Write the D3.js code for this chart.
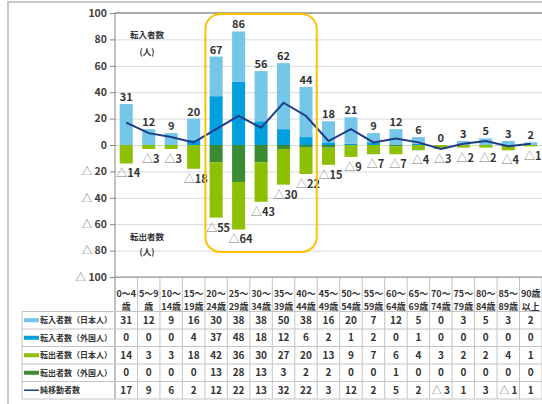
<!DOCTYPE html>
<html>
<head>
<meta charset="utf-8">
<script src="https://cdn.jsdelivr.net/npm/d3@7"></script>
<style>
  body { margin: 0; background: #fff; }
  svg { display: block; font-family: "Noto Sans CJK JP", "Noto Sans", sans-serif; }
</style>
</head>
<body>
<svg id="chart" width="542" height="404"></svg>
<script>
/* 年齢別 転入・転出者数 chart: stacked bars + net line + data table */

const AGE_TOP = ['0～4', '5～9', '10～', '15～', '20～', '25～', '30～', '35～', '40～', '45～',
  '50～', '55～', '60～', '65～', '70～', '75～', '80～', '85～', '90歳'];
const AGE_BOTTOM = ['歳', '歳', '14歳', '19歳', '24歳', '29歳', '34歳', '39歳', '44歳', '49歳',
  '54歳', '59歳', '64歳', '69歳', '74歳', '79歳', '84歳', '89歳', '以上'];

const IN_JP      = [31, 12, 9, 16, 30, 38, 38, 50, 38, 16, 20, 7, 12, 5, 0, 3, 5, 3, 2];
const IN_FOREIGN = [0, 0, 0, 4, 37, 48, 18, 12, 6, 2, 1, 2, 0, 1, 0, 0, 0, 0, 0];
const OUT_JP     = [14, 3, 3, 18, 42, 36, 30, 27, 20, 13, 9, 7, 6, 4, 3, 2, 2, 4, 1];
const OUT_FOREIGN= [0, 0, 0, 0, 13, 28, 13, 3, 2, 2, 0, 0, 1, 0, 0, 0, 0, 0, 0];
const NET        = [17, 9, 6, 2, 12, 22, 13, 32, 22, 3, 12, 2, 5, 2, -3, 1, 3, -1, 1];

const Y_TICKS = [100, 80, 60, 40, 20, 0, -20, -40, -60, -80, -100];
const HIGHLIGHT = [4, 8]; // 20～24 .. 40～44

const SERIES = [
  { name: '転入者数（日本人）', color: '#74c7e8', values: IN_JP, kind: 'bar' },
  { name: '転入者数（外国人）', color: '#00a0df', values: IN_FOREIGN, kind: 'bar' },
  { name: '転出者数（日本人）', color: '#8cc000', values: OUT_JP, kind: 'bar' },
  { name: '転出者数（外国人）', color: '#3a8b32', values: OUT_FOREIGN, kind: 'bar' },
  { name: '純移動者数', color: '#1f3c88', values: NET, kind: 'line' }
];

const fmtNeg = v => v < 0 ? '△ ' + (-v) : String(v);

const svg = d3.select('#chart');
const plotLeft = 115, plotRight = 542, plotTop = 13, plotBottom = 277;
const n = AGE_TOP.length;

const x = d3.scaleBand().domain(d3.range(n)).range([plotLeft, plotRight])
  .paddingInner(0.42).paddingOuter(0.21);
const step = x.step();
const bw = x.bandwidth();
const cx = i => x(i) + bw / 2;
const y = d3.scaleLinear().domain([-100, 100]).range([plotBottom, plotTop]);

// put a lighter triangle in front of a number
function triText(sel, v) {
  if (v >= 0) { sel.text(v); return; }
  sel.append('tspan').attr('fill', '#777').attr('font-weight', 'normal').text('△ ');
  sel.append('tspan').text(-v);
}

// outer frame
svg.append('path').attr('d', `M8,404 V2 H542`)
  .attr('fill', 'none').attr('stroke', '#c9c9c9').attr('stroke-width', 2);

// gridlines
svg.append('g')
  .attr('transform', `translate(${plotLeft},0)`)
  .call(d3.axisLeft(y).tickValues(Y_TICKS.slice(1)).tickSize(-(plotRight - plotLeft)).tickFormat(''))
  .call(g => g.select('.domain').remove())
  .call(g => g.selectAll('line').attr('stroke', '#d9d9d9'));

// top border of plot
svg.append('line').attr('x1', plotLeft).attr('x2', plotRight).attr('y1', plotTop).attr('y2', plotTop)
  .attr('stroke', '#8c8c8c').attr('stroke-width', 1.5);

// y axis
svg.append('g')
  .attr('transform', `translate(${plotLeft},0)`)
  .call(d3.axisLeft(y).tickValues(Y_TICKS).tickSize(5).tickSizeOuter(0).tickPadding(3).tickFormat(''))
  .call(g => g.select('.domain').remove())
  .call(g => g.selectAll('line').attr('stroke', '#868686'))
  .call(g => g.selectAll('text').attr('fill', '#404040').attr('font-size', 10.5)
    .attr('font-weight', 'bold').attr('font-family', '"Noto Sans CJK JP", sans-serif')
    .each(function (d) { triText(d3.select(this), d); }));

svg.append('line').attr('x1', plotLeft).attr('x2', plotLeft).attr('y1', plotTop).attr('y2', 399)
  .attr('stroke', '#868686');

// bars
const barG = svg.append('g');
d3.range(n).forEach(i => {
  const stacks = [
    { from: 0, to: IN_FOREIGN[i], color: SERIES[1].color },
    { from: IN_FOREIGN[i], to: IN_FOREIGN[i] + IN_JP[i], color: SERIES[0].color },
    { from: 0, to: -OUT_FOREIGN[i], color: SERIES[3].color },
    { from: -OUT_FOREIGN[i], to: -OUT_FOREIGN[i] - OUT_JP[i], color: SERIES[2].color }
  ];
  stacks.forEach(s => {
    if (s.from === s.to) return;
    barG.append('rect')
      .attr('x', x(i)).attr('width', bw)
      .attr('y', y(Math.max(s.from, s.to)))
      .attr('height', Math.abs(y(s.from) - y(s.to)))
      .attr('fill', s.color);
  });
});

// net line
svg.append('path')
  .datum(d3.range(n))
  .attr('fill', 'none').attr('stroke', SERIES[4].color).attr('stroke-width', 2)
  .attr('d', d3.line().x(i => cx(i)).y(i => y(NET[i])));

// data labels
const lab = svg.append('g').attr('font-size', 11).attr('font-weight', 'bold')
  .attr('fill', '#333').attr('text-anchor', 'middle');
d3.range(n).forEach(i => {
  const tin = IN_JP[i] + IN_FOREIGN[i];
  const tout = OUT_JP[i] + OUT_FOREIGN[i];
  lab.append('text').attr('x', cx(i)).attr('y', y(tin) - 3).text(tin);
  const t = lab.append('text').attr('x', cx(i) + 2).attr('y', y(-tout) + 14);
  t.append('tspan').attr('fill', '#777').attr('font-weight', 'normal').text('△');
  t.append('tspan').text(tout);
});

// highlight box
svg.append('rect')
  .attr('x', plotLeft + HIGHLIGHT[0] * step + 0.5)
  .attr('width', (HIGHLIGHT[1] - HIGHLIGHT[0] + 1) * step - 1)
  .attr('y', y(100) + 1).attr('height', y(-81) - y(100) - 1)
  .attr('rx', 15)
  .attr('fill', 'none').attr('stroke', '#ffc000').attr('stroke-width', 2);

// axis titles
const note = svg.append('g').attr('font-size', 8.5).attr('font-weight', 'bold')
  .attr('fill', '#333').attr('text-anchor', 'middle');
note.append('text').attr('x', 147).attr('y', 38).text('転入者数');
note.append('text').attr('x', 147).attr('y', 55).text('(人)');
note.append('text').attr('x', 147).attr('y', 240).text('転出者数');
note.append('text').attr('x', 147).attr('y', 255).text('(人)');

// data table
const rowTop = 311.5, rowH = 17.5, legLeft = 22;
const table = svg.append('g');
const gridColor = '#c4c4c4';
for (let i = 1; i <= n; i++) {
  table.append('line').attr('x1', plotLeft + i * step).attr('x2', plotLeft + i * step)
    .attr('y1', plotBottom).attr('y2', rowTop + 5 * rowH).attr('stroke', gridColor);
}
table.append('line').attr('x1', plotLeft).attr('x2', plotRight).attr('y1', plotBottom).attr('y2', plotBottom)
  .attr('stroke', '#868686');
for (let r = 0; r <= 5; r++) {
  table.append('line').attr('x1', legLeft).attr('x2', plotRight)
    .attr('y1', rowTop + r * rowH).attr('y2', rowTop + r * rowH).attr('stroke', gridColor);
}
table.append('line').attr('x1', legLeft).attr('x2', legLeft)
  .attr('y1', rowTop).attr('y2', rowTop + 5 * rowH).attr('stroke', gridColor);

const head = table.append('g').attr('font-size', 9).attr('font-weight', 'bold')
  .attr('fill', '#333').attr('text-anchor', 'middle');
d3.range(n).forEach(i => {
  head.append('text').attr('x', cx(i)).attr('y', 296.5).text(AGE_TOP[i]);
  head.append('text').attr('x', cx(i)).attr('y', 309.5).text(AGE_BOTTOM[i]);
});

SERIES.forEach((s, r) => {
  const my = rowTop + r * rowH + rowH / 2;
  if (s.kind === 'bar') {
    table.append('rect').attr('x', 24).attr('y', my - 2).attr('width', 15).attr('height', 4)
      .attr('fill', s.color);
  } else {
    table.append('line').attr('x1', 24).attr('x2', 39).attr('y1', my).attr('y2', my)
      .attr('stroke', s.color).attr('stroke-width', 1.5);
  }
  table.append('text').attr('x', 40).attr('y', my + 3).attr('font-size', 8)
    .attr('font-weight', 'bold').attr('fill', '#333').text(s.name);
  s.values.forEach((v, i) => {
    const t = table.append('text').attr('x', cx(i)).attr('y', my + 3.5)
      .attr('text-anchor', 'middle').attr('font-size', 10).attr('font-weight', 'bold')
      .attr('fill', '#333');
    triText(t, v);
  });
});
</script>
</body>
</html>
